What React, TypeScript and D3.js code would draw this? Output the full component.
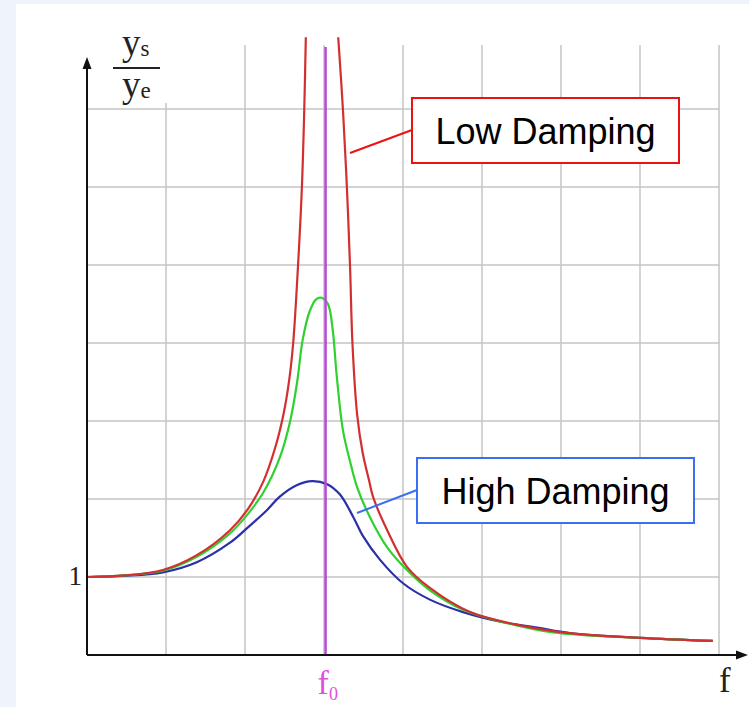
import React from "react";
import * as d3 from "d3";

// Frequency axis gridlines (f units) and amplitude gridlines (ys/ye units)
const fGrid = [1, 2, 3, 4, 5, 6, 7, 8];
const vGrid = [1, 2, 3, 4, 5, 6, 7];
const resonanceF = 3.02;

// Low damping (red) – rising branch and falling branch (peak leaves the plot)
const lowRise: [number, number][] = [
  [0, 1.0], [0.47, 1.02], [0.96, 1.09], [1.39, 1.28], [1.81, 1.6], [2.03, 1.86], [2.23, 2.22],
  [2.38, 2.65], [2.49, 3.1], [2.56, 3.53], [2.61, 4.0], [2.67, 4.97], [2.72, 5.99],
  [2.75, 6.99], [2.77, 7.92],
];
const lowFall: [number, number][] = [
  [3.18, 7.92], [3.24, 6.99], [3.29, 5.99], [3.33, 4.97], [3.36, 4.0], [3.42, 3.08],
  [3.49, 2.59], [3.57, 2.24], [3.62, 2.03], [3.8, 1.6], [4.05, 1.13], [4.34, 0.86],
  [4.85, 0.55], [5.48, 0.38], [6.11, 0.28], [7.0, 0.22], [7.92, 0.18],
];
// Medium damping (green)
const medium: [number, number][] = [
  [0, 1.0], [0.47, 1.02], [0.96, 1.08], [1.39, 1.26], [1.81, 1.56], [2.03, 1.8], [2.23, 2.08],
  [2.44, 2.53], [2.57, 2.99], [2.66, 3.5], [2.73, 4.04], [2.82, 4.41], [2.9, 4.56],
  [2.97, 4.58], [3.05, 4.5], [3.11, 4.17], [3.16, 3.59], [3.24, 2.88], [3.33, 2.48],
  [3.42, 2.15], [3.58, 1.77], [3.8, 1.38], [4.05, 1.09], [4.34, 0.83], [4.76, 0.58],
  [5.27, 0.42], [5.9, 0.29], [7.0, 0.22], [7.92, 0.18],
];
// High damping (blue)
const high: [number, number][] = [
  [0, 1.0], [0.47, 1.015], [0.96, 1.06], [1.39, 1.19], [1.81, 1.44], [2.03, 1.63], [2.28, 1.86],
  [2.44, 2.03], [2.66, 2.18], [2.85, 2.23], [3.04, 2.19], [3.2, 2.06], [3.37, 1.77],
  [3.49, 1.53], [3.71, 1.22], [4.0, 0.92], [4.34, 0.71], [4.76, 0.55], [5.27, 0.42],
  [5.7, 0.35], [6.11, 0.28], [7.0, 0.22], [7.92, 0.18],
];

const W = 749;
const H = 707;

export default function App() {
  const x = d3.scaleLinear().domain([0, 8]).range([87, 719]);
  const y = d3.scaleLinear().domain([0, 7]).range([655, 109]);
  const line = d3
    .line<[number, number]>()
    .x((d) => x(d[0]))
    .y((d) => y(d[1]))
    .curve(d3.curveCatmullRom.alpha(0.5));

  const grid = "#c4c4c4";
  const serif = "'Liberation Serif', 'DejaVu Serif', serif";
  const sans = "'Liberation Sans', Arial, sans-serif";

  return (
    <svg
      width={W}
      height={H}
      style={{ position: "absolute", left: 0, top: 0 }}
    >
      <rect x={0} y={0} width={W} height={H} fill="#eef4fa" />
      <rect x={16} y={4} width={W - 16} height={H - 4} fill="#ffffff" />

      {/* grid */}
      {vGrid.map((v) => (
        <line key={"h" + v} x1={x(0)} x2={x(8)} y1={y(v)} y2={y(v)} stroke={grid} strokeWidth={1.5} />
      ))}
      {fGrid.map((f) => (
        <line key={"v" + f} x1={x(f)} x2={x(f)} y1={45} y2={y(0)} stroke={grid} strokeWidth={1.5} />
      ))}

      {/* label background */}
      <rect x={108} y={28} width={62} height={75} fill="#ffffff" />
      <text x={122} y={55} fontFamily={serif} fontSize={37} fill="#222">
        y<tspan fontSize={23} dy={1}>s</tspan>
      </text>
      <line x1={113} x2={160} y1={68} y2={68} stroke="#222" strokeWidth={2} />
      <text x={122} y={97} fontFamily={serif} fontSize={37} fill="#222">
        y<tspan fontSize={23} dy={1}>e</tspan>
      </text>

      {/* curves */}
      <path d={line(high) || ""} fill="none" stroke="#2b2fa8" strokeWidth={2.2} />
      <path d={line(medium) || ""} fill="none" stroke="#2fd12f" strokeWidth={2.2} />
      <path d={line(lowRise) || ""} fill="none" stroke="#d23030" strokeWidth={2.2} />
      <path d={line(lowFall) || ""} fill="none" stroke="#d23030" strokeWidth={2.2} />

      {/* resonance line */}
      <line x1={x(resonanceF)} x2={x(resonanceF)} y1={47} y2={y(0)} stroke="#b84ad8" strokeWidth={2.5} />

      {/* axes */}
      <line x1={x(0)} x2={x(0)} y1={y(0)} y2={64} stroke="#111" strokeWidth={2} />
      <path d={`M${x(0)},57 L${x(0) - 4.5},69 L${x(0) + 4.5},69 Z`} fill="#111" />
      <line x1={x(0)} x2={740} y1={y(0)} y2={y(0)} stroke="#111" strokeWidth={2} />
      <path d={`M748,${y(0)} L736,${y(0) - 4.5} L736,${y(0) + 4.5} Z`} fill="#111" />

      {/* tick labels */}
      <text x={82} y={585} textAnchor="end" fontFamily={serif} fontSize={27} fill="#222">1</text>
      <text x={x(resonanceF) - 8} y={694} fontFamily={serif} fontSize={34} fill="#e050e0">
        f<tspan fontSize={18} dy={6}>0</tspan>
      </text>
      <text x={719} y={692} fontFamily={serif} fontSize={35} fill="#222">f</text>

      {/* annotations */}
      <line x1={350} y1={153} x2={412} y2={130} stroke="#ee1111" strokeWidth={2} />
      <rect x={412} y={98} width={267} height={65} fill="#ffffff" stroke="#ee1111" strokeWidth={2} />
      <text x={545.5} y={144} textAnchor="middle" fontFamily={sans} fontSize={36} fill="#000">
        Low Damping
      </text>

      <line x1={357} y1={513} x2={417} y2={490} stroke="#3b6ef5" strokeWidth={2} />
      <rect x={417} y={458} width={277} height={65} fill="#ffffff" stroke="#3b6ef5" strokeWidth={2} />
      <text x={555.5} y={504} textAnchor="middle" fontFamily={sans} fontSize={36} fill="#000">
        High Damping
      </text>
    </svg>
  );
}
